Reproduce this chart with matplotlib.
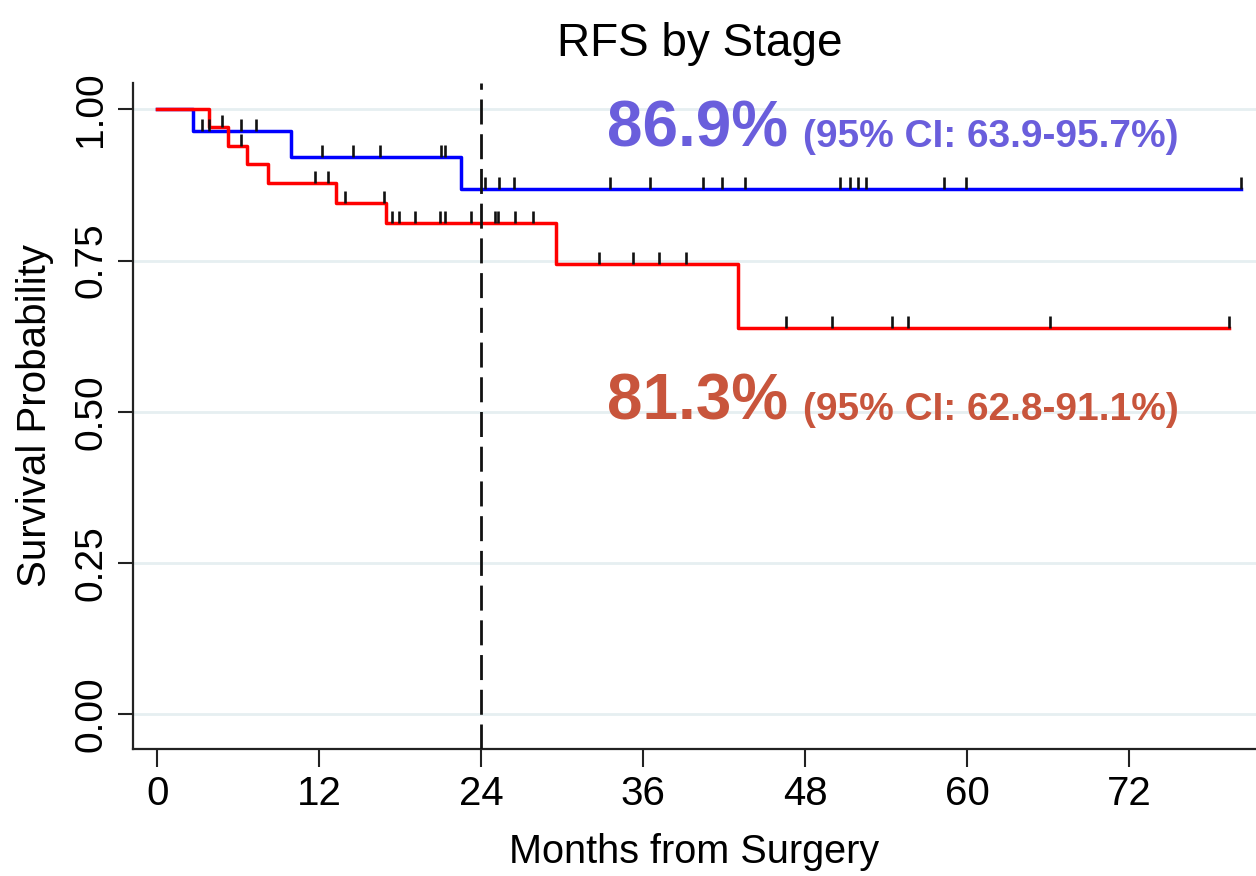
import numpy as np
import matplotlib
matplotlib.use("Agg")
from matplotlib import pyplot as plt
from matplotlib.path import Path

plt.rcParams['font.family'] = ['Liberation Sans', 'DejaVu Sans']

# KM steps (months, survival)
blue_times = [2.6, 9.9, 22.5]
blue_surv = [0.964, 0.922, 0.869]
blue_end = 80.3
blue_cens = [3.3, 3.8, 6.2, 7.3, 12.2, 14.5, 16.5, 21.0, 21.3, 24.3, 25.3, 26.4,
             33.5, 36.5, 40.4, 41.8, 43.5, 50.6, 51.3, 51.9, 52.5, 58.3, 59.9, 80.3]

red_times = [3.8, 5.25, 6.6, 8.2, 13.2, 16.9, 29.5, 43.0]
red_surv = [0.970, 0.940, 0.909, 0.879, 0.846, 0.812, 0.745, 0.639]
red_end = 79.4
red_cens = [4.8, 6.2, 11.7, 12.6, 13.9, 16.8, 17.4, 17.9, 19.1, 20.9, 21.3, 23.2,
            25.0, 25.2, 26.5, 27.8, 32.7, 35.2, 37.2, 39.2, 46.6, 50.0, 54.4, 55.6,
            66.1, 79.4]

xticks = [0, 12, 24, 36, 48, 60, 72]
yticks = [0.0, 0.25, 0.5, 0.75, 1.0]
landmark = 24

blue_txt = "86.9%"
blue_ci = "(95% CI: 63.9-95.7%)"
red_txt = "81.3%"
red_ci = "(95% CI: 62.8-91.1%)"

tick_mark = Path([(0, 0), (0, 1)])


def surv_at(times, surv, t):
	levels = np.r_[1.0, surv]
	return levels[np.searchsorted(times, t, side='right')]


def draw_km(ax, times, surv, end, cens, color):
	x = np.r_[0, times, end]
	y = np.r_[1.0, surv, surv[-1]]
	ax.plot(x, y, drawstyle='steps-post', color=color, lw=2.5, zorder=3)
	cy = surv_at(np.array(times), np.array(surv), np.array(cens))
	ax.plot(cens, cy, ls='none', marker=tick_mark, markersize=18,
			mfc='none', mec='#111111', mew=1.9, zorder=4)


fig = plt.figure(figsize=(12.56, 8.76), dpi=100)
ax = fig.add_axes([0.1057, 0.145, 0.8943, 0.7606])

for yv in yticks:
	ax.axhline(yv, color='#E6EFF1', lw=2, zorder=1)

draw_km(ax, blue_times, blue_surv, blue_end, blue_cens, '#0000FF')
draw_km(ax, red_times, red_surv, red_end, red_cens, '#FF0000')

ax.axvline(landmark, color='#111111', lw=2, dashes=(9, 3.5), zorder=5)

ax.set_xlim(-1.83, 81.4)
ax.set_ylim(-0.057, 1.044)
ax.set_xticks(xticks)
ax.set_xticklabels([str(v) for v in xticks], fontsize=29)
ax.set_yticks(yticks)
ax.set_yticklabels(["%.2f" % v for v in yticks], fontsize=28, rotation=90, va='center')
ax.tick_params(axis='x', length=13, width=1.5, pad=6, color='#222222')
ax.tick_params(axis='y', length=11, width=1.5, pad=6, color='#222222')

for side in ['top', 'right']:
	ax.spines[side].set_visible(False)
for side in ['left', 'bottom']:
	ax.spines[side].set_linewidth(1.6)
	ax.spines[side].set_color('#222222')

ax.set_xlabel("Months from Surgery", fontsize=28.5, labelpad=14)
ax.set_ylabel("Survival Probability", fontsize=29, labelpad=14)
fig.text(0.557, 0.95, "RFS by Stage", fontsize=33, ha='center', va='center')

ax.text(33.3, 0.938, blue_txt, color='#6A5EDC', fontsize=46, fontweight='bold', va='baseline')
ax.text(47.8, 0.938, blue_ci, color='#6A5EDC', fontsize=28, fontweight='bold', va='baseline')
ax.text(33.3, 0.487, red_txt, color='#C8553C', fontsize=46, fontweight='bold', va='baseline')
ax.text(47.8, 0.487, red_ci, color='#C8553C', fontsize=28, fontweight='bold', va='baseline')

fig.savefig("out.png", dpi=100)
